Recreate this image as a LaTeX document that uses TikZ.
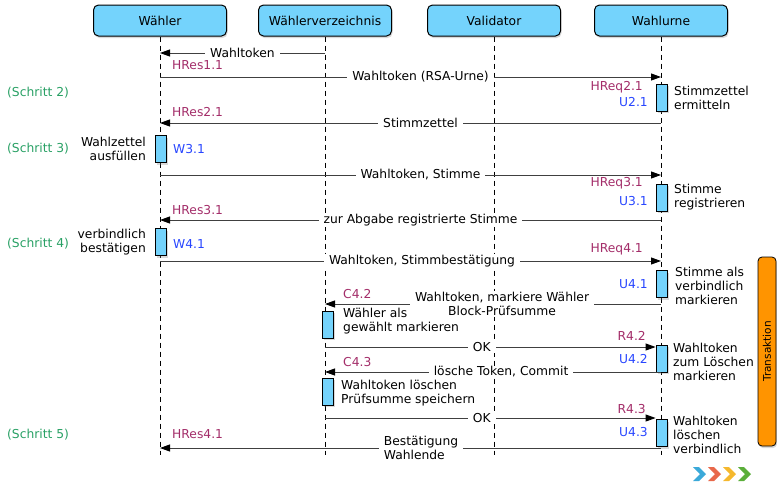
\documentclass[tikz,border=0pt]{standalone}
\usepackage{fontspec}
\setmainfont{DejaVu Sans}
\usetikzlibrary{arrows.meta, shadows}

\definecolor{headblue}{RGB}{116,211,252}
\definecolor{reqred}{RGB}{163,45,105}
\definecolor{idblue}{RGB}{40,70,255}
\definecolor{stepgreen}{RGB}{40,160,100}
\definecolor{taorange}{RGB}{255,148,0}
\definecolor{logoblue}{RGB}{59,169,217}
\definecolor{logored}{RGB}{232,104,74}
\definecolor{logoyellow}{RGB}{245,184,46}
\definecolor{logogreen}{RGB}{91,174,58}

\begin{document}
\begin{tikzpicture}[x=1pt, y=-1pt, font=\fontsize{12.3}{14}\selectfont,
    head/.style={draw, line width=1pt, rounded corners=5pt, fill=headblue,
        minimum width=133pt, minimum height=31pt,
        drop shadow={opacity=0.3, shadow xshift=1pt, shadow yshift=-2pt}},
    lifeline/.style={dash pattern=on 5pt off 4pt, line width=0.8pt},
    actbox/.style={draw, line width=0.8pt, fill=headblue, inner sep=0pt,
        minimum width=11pt, minimum height=27pt,
        drop shadow={opacity=0.3, shadow xshift=1.5pt, shadow yshift=-2pt}},
    msg/.style={-{Triangle[length=10pt, width=7pt, black]}, line width=0.9pt, black!75},
    msglabel/.style={fill=white, text=black, inner xsep=5pt, inner ysep=1pt},
    hres/.style={text=reqred, inner sep=0pt},
    uid/.style={text=idblue, inner sep=0pt},
    note/.style={align=left, inner sep=0pt},
    schritt/.style={text=stepgreen, anchor=west, inner sep=0pt}]

    \useasboundingbox (0,0) rectangle (777,483);

    \node[head] (w) at (160,20.5) {Wähler};
    \node[head] (wv) at (325,20.5) {Wählerverzeichnis};
    \node[head] (val) at (494,20.5) {Validator};
    \node[head] (urne) at (661,20.5) {Wahlurne};

    \foreach \n in {w, wv, val, urne}
        \draw[lifeline] (\n.south) -- (\n.south |- 0,455);

    \node[actbox] (u21) at (661.5,97.5) {};
    \node[actbox] (w31) at (160.5,149) {};
    \node[actbox] (u31) at (661.5,197.5) {};
    \node[actbox] (w41) at (160.5,242) {};
    \node[actbox] (u41) at (661.5,284) {};
    \node[actbox] (c42) at (327.5,324.5) {};
    \node[actbox] (u42) at (661.5,358.5) {};
    \node[actbox] (c43) at (327.5,391.5) {};
    \node[actbox] (u43) at (661.5,433) {};

    \draw[msg] (wv |- 0,53) -- (w |- 0,53) node[msglabel, midway] {Wahltoken};
    \draw[msg] (w |- 0,77) -- (urne |- 0,77) node[msglabel, pos=0.52] {Wahltoken (RSA-Urne)};
    \draw[msg] (urne |- 0,123) -- (w |- 0,123) node[msglabel, pos=0.48] {Stimmzettel};
    \draw[msg] (w |- 0,175) -- (urne |- 0,175) node[msglabel, pos=0.52] {Wahltoken, Stimme};
    \draw[msg] (urne |- 0,220) -- (w |- 0,220) node[msglabel, pos=0.48] {zur Abgabe registrierte Stimme};
    \draw[msg] (w |- 0,261) -- (urne |- 0,261) node[msglabel, pos=0.523] {Wahltoken, Stimmbestätigung};
    \draw[msg] (urne |- 0,304) -- (wv |- 0,304)
        node[msglabel, align=center, pos=0.473] {Wahltoken, markiere Wähler\\Block-Prüfsumme};
    \draw[msg] (wv |- 0,347) -- (u42.west |- 0,347) node[msglabel, pos=0.474] {OK};
    \draw[msg] (urne |- 0,372) -- (wv |- 0,372) node[msglabel, pos=0.476] {lösche Token, Commit};
    \draw[msg] (wv |- 0,418) -- (u43.west |- 0,418) node[msglabel, pos=0.474] {OK};
    \draw[msg] (urne |- 0,448) -- (w |- 0,448)
        node[msglabel, align=left, pos=0.479] {Bestätigung\\Wahlende};

    \node[hres, anchor=west] (hres11) at (172,65) {HRes1.1};
    \node[hres, anchor=east] (hreq21) at (643,87) {HReq2.1};
    \node[uid, anchor=east] (u21id) at (648,102) {U2.1};
    \node[note, anchor=west] (u21txt) at (674,97.5) {Stimmzettel\\ermitteln};
    \node[hres, anchor=west] (hres21) at (172,112) {HRes2.1};
    \node[note, align=right, anchor=east] (w31txt) at (146,149) {Wahlzettel\\ausfüllen};
    \node[uid, anchor=west] (w31id) at (173,149) {W3.1};
    \node[hres, anchor=east] (hreq31) at (643,183) {HReq3.1};
    \node[uid, anchor=east] (u31id) at (648,201) {U3.1};
    \node[note, anchor=west] (u31txt) at (674,197.5) {Stimme\\registrieren};
    \node[hres, anchor=west] (hres31) at (172,210) {HRes3.1};
    \node[note, align=right, anchor=east] (w41txt) at (146,242) {verbindlich\\bestätigen};
    \node[uid, anchor=west] (w41id) at (173,244) {W4.1};
    \node[hres, anchor=east] (hreq41) at (643,249) {HReq4.1};
    \node[uid, anchor=east] (u41id) at (648,284) {U4.1};
    \node[note, anchor=west] (u41txt) at (675,286) {Stimme als\\verbindlich\\markieren};
    \node[hres, anchor=west] (c42id) at (343,294) {C4.2};
    \node[note, anchor=west] (c42txt) at (343,321.5) {Wähler als\\gewählt markieren};
    \node[hres, anchor=east] (r42) at (646,336) {R4.2};
    \node[uid, anchor=east] (u42id) at (648,359) {U4.2};
    \node[note, anchor=west] (u42txt) at (673,362) {Wahltoken\\zum Löschen\\markieren};
    \node[hres, anchor=west] (c43id) at (343,362) {C4.3};
    \node[note, anchor=west] (c43txt) at (341,393.5) {Wahltoken löschen\\Prüfsumme speichern};
    \node[hres, anchor=east] (r43) at (646,409) {R4.3};
    \node[uid, anchor=east] (u43id) at (648,432) {U4.3};
    \node[note, anchor=west] (u43txt) at (673,435) {Wahltoken\\löschen\\verbindlich};
    \node[hres, anchor=west] (hres41) at (172,434) {HRes4.1};

    \node[schritt] (s2) at (7,93) {(Schritt 2)};
    \node[schritt] (s3) at (7,149) {(Schritt 3)};
    \node[schritt] (s4) at (7,244) {(Schritt 4)};
    \node[schritt] (s5) at (7,435) {(Schritt 5)};

    \node[draw, line width=0.8pt, fill=taorange, rounded corners=4pt, rotate=90,
        minimum width=189pt, minimum height=18pt, inner sep=0pt,
        font=\fontsize{10.5}{12}\selectfont,
        drop shadow={opacity=0.3, shadow xshift=1pt, shadow yshift=-2pt}] (ta) at (767,351.5) {Transaktion};

    \foreach \c [count=\i from 0] in {logoblue, logored, logoyellow, logogreen}
        \fill[\c] ({693+15*\i},467) -- ++(6,0) -- ++(7,7) -- ++(-7,7) -- ++(-6,0) -- ++(7,-7) -- cycle;
\end{tikzpicture}
\end{document}
